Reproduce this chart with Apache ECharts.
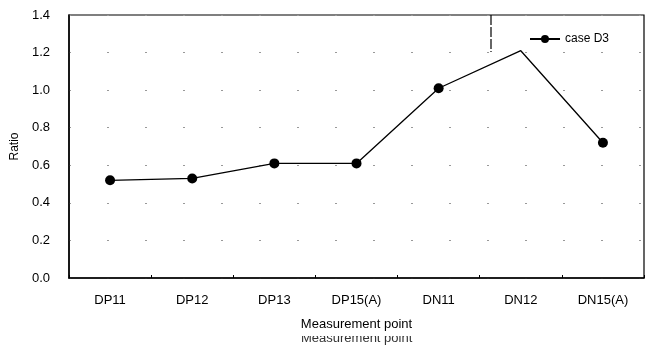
<!DOCTYPE html>
<html>
<head>
<meta charset="utf-8">
<script src="https://cdn.jsdelivr.net/npm/echarts@6/dist/echarts.min.js"></script>
<style>
  html, body { margin: 0; padding: 0; background: #fff; }
  #chart { width: 652px; height: 347px; }
</style>
</head>
<body>
<div id="chart"></div>
<script>
// Measurement points along the x axis
var categories = ['DP11', 'DP12', 'DP13', 'DP15(A)', 'DN11', 'DN12', 'DN15(A)'];
// Ratio measured for case D3
var caseD3 = [0.52, 0.53, 0.61, 0.61, 1.01, 1.21, 0.72];
var seriesName = 'case D3';
var yTicks = { min: 0, max: 1.4, interval: 0.2 };
var xTitle = 'Measurement point';
var yTitle = 'Ratio';

var FONT = '"Liberation Sans", Arial, sans-serif';
var chart = echarts.init(document.getElementById('chart'), null, { renderer: 'canvas' });

// the DN12 point is drawn without a marker
var lineData = caseD3.map(function (v, i) {
  return i === 5 ? { value: v, symbolSize: 0 } : v;
});

chart.setOption({
  animation: false,
  backgroundColor: '#ffffff',
  grid: {
    left: 69, right: 8, top: 15, bottom: 69,
    show: true, borderColor: '#000', borderWidth: 1.2, backgroundColor: 'transparent'
  },
  legend: {
    data: [seriesName],
    right: 38, top: 28,
    itemWidth: 30, itemHeight: 10,
    itemGap: 4,
    textStyle: { fontFamily: FONT, fontSize: 12, color: '#000' }
  },
  xAxis: {
    type: 'category',
    data: categories,
    boundaryGap: true,
    name: xTitle,
    nameLocation: 'middle',
    nameGap: 40,
    nameTextStyle: { fontFamily: FONT, fontSize: 13, color: '#000' },
    axisLine: { lineStyle: { color: '#000', width: 1.5 } },
    axisTick: { show: true, inside: true, length: 3, lineStyle: { color: '#000' } },
    axisLabel: { fontFamily: FONT, fontSize: 13, color: '#000', margin: 16 },
    splitLine: { show: false }
  },
  yAxis: {
    type: 'value',
    min: yTicks.min, max: yTicks.max, interval: yTicks.interval,
    name: yTitle,
    nameLocation: 'middle',
    nameGap: 45,
    nameTextStyle: { fontFamily: FONT, fontSize: 12, color: '#000' },
    axisLine: { show: true, lineStyle: { color: '#000', width: 1.5 } },
    axisTick: { show: false },
    axisLabel: {
      fontFamily: FONT, fontSize: 13, color: '#000', margin: 19,
      formatter: function (v) { return v.toFixed(1); }
    },
    splitLine: { show: true, lineStyle: { color: '#999', width: 1, type: [2, 36] } }
  },
  series: [{
    name: seriesName,
    type: 'line',
    data: lineData,
    symbol: 'circle',
    symbolSize: 10,
    itemStyle: { color: '#000' },
    lineStyle: { color: '#000', width: 1.3 }
  }],
  graphic: [
    // short vertical stroke left of the legend
    { type: 'line', shape: { x1: 491, y1: 15, x2: 491, y2: 52 },
      style: { stroke: '#000', lineWidth: 1.2, lineDash: [10, 2] }, z: 10 },
    // faded repeat of the axis title, top part hidden
    { type: 'text', left: 301, top: 332, z: 10,
      style: { text: xTitle, fontFamily: FONT, fontSize: 13, fill: '#333' } },
    { type: 'rect', shape: { x: 290, y: 331, width: 140, height: 5 },
      style: { fill: '#fff' }, z: 11 }
  ]
});
</script>
</body>
</html>
